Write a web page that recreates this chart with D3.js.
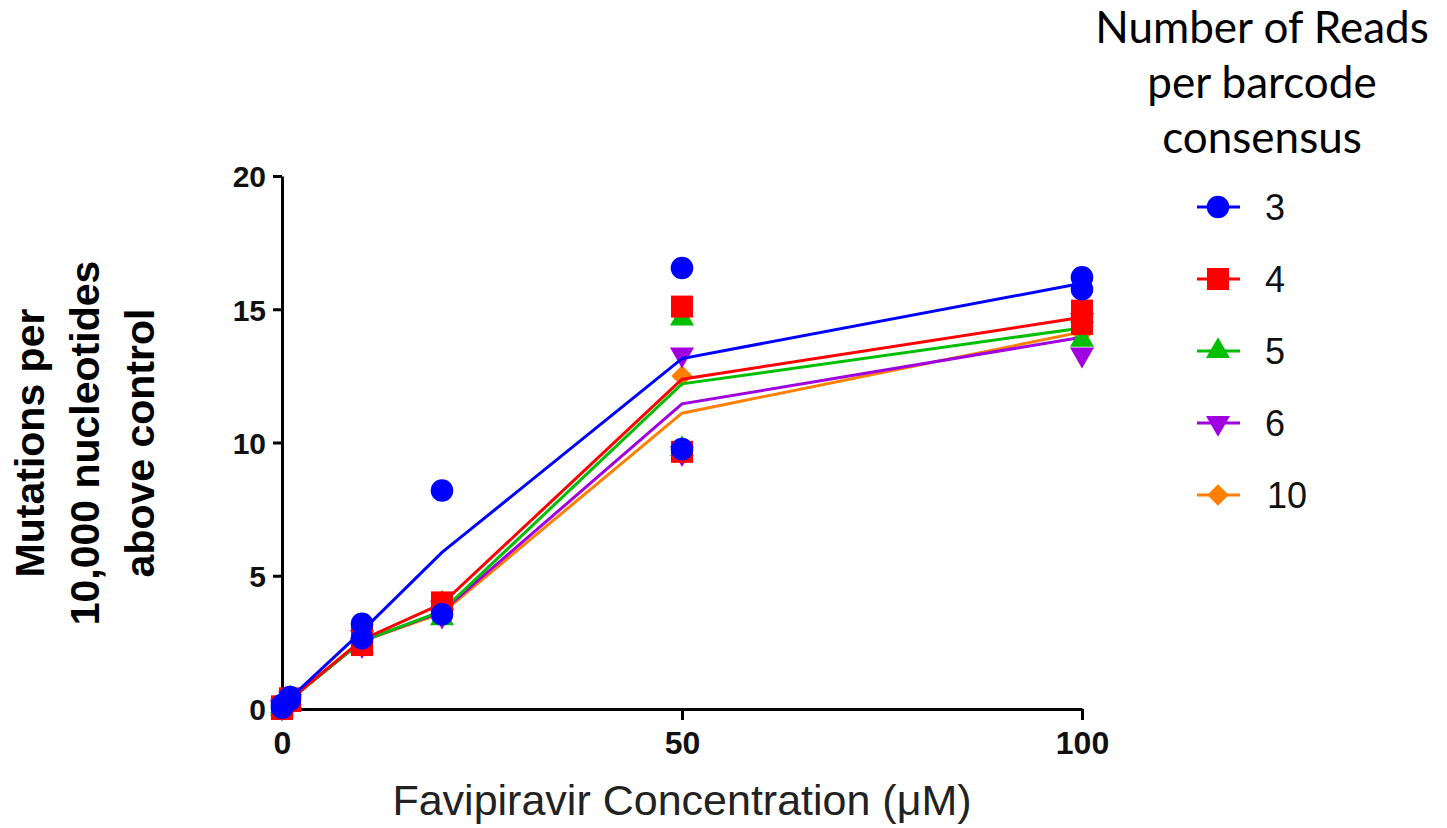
<!DOCTYPE html>
<html>
<head>
<meta charset="utf-8">
<script src="https://cdn.jsdelivr.net/npm/d3@7"></script>
<style>
  body { margin: 0; background: #fff; }
  svg { display: block; }
</style>
</head>
<body>
<svg id="chart" width="1447" height="828"></svg>
<script>
// favipiravir concentrations (uM)
var concentrations = [0, 1, 10, 20, 50, 100];
// reads per barcode consensus
var readGroups = ["3", "4", "5", "6", "10"];
var groupColors = ["#0000ff", "#ff0000", "#00bf00", "#a000e0", "#ff8000"];
var groupSymbols = ["circle", "square", "triangle", "triangleDown", "diamond"];

// two replicates per concentration, mutations per 10,000 nt above control
var rep1 = [
  [0.05, 0.35, 3.2, 3.55, 16.55, 16.2],
  [0.0, 0.4, 2.4, 4.0, 15.1, 14.95],
  [0.0, 0.3, 2.35, 3.4, 14.65, 13.85],
  [0.05, 0.3, 2.4, 3.5, 13.3, 13.3],
  [0.05, 0.3, 2.35, 3.45, 12.5, 14.2]
];
var rep2 = [
  [0.15, 0.45, 2.65, 8.2, 9.75, 15.75],
  [0.1, 0.3, 2.8, 3.9, 9.65, 14.45],
  [0.1, 0.4, 2.75, 3.95, 9.75, 14.75],
  [0.1, 0.4, 2.7, 3.8, 9.6, 14.6],
  [0.1, 0.4, 2.75, 3.75, 9.7, 14.1]
];

var xTicks = [0, 50, 100];
var yTicks = [0, 5, 10, 15, 20];

var svg = d3.select("#chart");

var x = d3.scaleLinear().domain([0, 100]).range([282, 1082]);
var y = d3.scaleLinear().domain([0, 20]).range([709, 176]);

function symbolPath(name) {
  if (name == "circle") return d3.symbol().type(d3.symbolCircle).size(400)();
  if (name == "square") return d3.symbol().type(d3.symbolSquare).size(484)();
  if (name == "diamond") return d3.symbol().type(d3.symbolSquare).size(230)();
  return d3.symbol().type(d3.symbolTriangle).size(250)();
}
function symbolRotate(name) {
  if (name == "triangleDown") return 180;
  if (name == "diamond") return 45;
  return 0;
}

// axes
var xAxis = svg.append("g")
  .attr("transform", "translate(0," + y(0) + ")")
  .call(d3.axisBottom(x).tickValues(xTicks).tickSize(11).tickPadding(11).tickSizeOuter(0));
var yAxis = svg.append("g")
  .attr("transform", "translate(" + x(0) + ",0)")
  .call(d3.axisLeft(y).tickValues(yTicks).tickSize(9).tickPadding(7).tickSizeOuter(0));

[xAxis, yAxis].forEach(function (ax) {
  ax.select(".domain").attr("stroke", "#000").attr("stroke-width", 3);
  ax.selectAll(".tick line").attr("stroke", "#000").attr("stroke-width", 3);
  ax.selectAll(".tick text")
    .attr("fill", "#111")
    .style("font-family", "Liberation Sans, Arial, sans-serif")
    .style("font-weight", "bold");
});
xAxis.selectAll(".tick text").style("font-size", "32px");
yAxis.selectAll(".tick text").style("font-size", "30px").attr("dy", "0.36em");
// no tick at origin on the x axis
xAxis.selectAll(".tick").filter(function (d) { return d === 0; }).select("line").remove();

// series, drawn from the last group so "3" ends up on top
var line = d3.line()
  .x(function (d) { return x(d.c); })
  .y(function (d) { return y(d.v); });

for (var s = readGroups.length - 1; s >= 0; s--) {
  var means = concentrations.map(function (c, i) {
    return { c: c, v: d3.mean([rep1[s][i], rep2[s][i]]) };
  });
  var pts = [];
  concentrations.forEach(function (c, i) {
    pts.push({ c: c, v: rep1[s][i] });
    pts.push({ c: c, v: rep2[s][i] });
  });
  var g = svg.append("g");
  g.append("path")
    .datum(means)
    .attr("d", line)
    .attr("fill", "none")
    .attr("stroke", groupColors[s])
    .attr("stroke-width", 3);
  var sym = groupSymbols[s];
  g.selectAll(".pt")
    .data(pts)
    .enter()
    .append("path")
    .attr("class", "pt")
    .attr("d", symbolPath(sym))
    .attr("transform", function (d) {
      return "translate(" + x(d.c) + "," + y(d.v) + ") rotate(" + symbolRotate(sym) + ")";
    })
    .attr("fill", groupColors[s]);
}

// axis titles
svg.append("text")
  .attr("x", 682)
  .attr("y", 815)
  .attr("text-anchor", "middle")
  .attr("fill", "#222")
  .style("font-family", "Liberation Sans, Arial, sans-serif")
  .style("font-size", "43px")
  .text("Favipiravir Concentration (\u03bcM)");

var yTitle = ["Mutations per", "10,000 nucleotides", "above control"];
svg.append("g")
  .attr("transform", "translate(99,443) rotate(-90)")
  .selectAll("text")
  .data(yTitle)
  .enter()
  .append("text")
  .attr("x", 0)
  .attr("y", function (d, i) { return (i - 1) * 55; })
  .attr("text-anchor", "middle")
  .attr("fill", "#000")
  .style("font-family", "Liberation Sans, Arial, sans-serif")
  .style("font-size", "41px")
  .style("font-weight", "bold")
  .text(function (d) { return d; });

// legend
var legendTitle = ["Number of Reads", "per barcode", "consensus"];
svg.append("g")
  .selectAll("text")
  .data(legendTitle)
  .enter()
  .append("text")
  .attr("x", 1262)
  .attr("y", function (d, i) { return 43 + i * 55; })
  .attr("text-anchor", "middle")
  .attr("fill", "#000")
  .style("font-family", "Lato, sans-serif")
  .style("font-size", "44px")
  .text(function (d) { return d; });

var legend = svg.append("g")
  .selectAll("g")
  .data(readGroups)
  .enter()
  .append("g")
  .attr("transform", function (d, i) { return "translate(1218," + (207 + i * 72) + ")"; });

legend.append("line")
  .attr("x1", -21).attr("x2", 22)
  .attr("stroke", function (d, i) { return groupColors[i]; })
  .attr("stroke-width", 3);
legend.append("path")
  .attr("d", function (d, i) { return symbolPath(groupSymbols[i]); })
  .attr("transform", function (d, i) { return "rotate(" + symbolRotate(groupSymbols[i]) + ")"; })
  .attr("fill", function (d, i) { return groupColors[i]; });
legend.append("text")
  .attr("x", function (d) { return d.length > 1 ? 49 : 47; })
  .attr("y", 13)
  .attr("fill", "#111")
  .style("font-family", "Liberation Sans, Arial, sans-serif")
  .style("font-size", "36px")
  .text(function (d) { return d; });
</script>
</body>
</html>
